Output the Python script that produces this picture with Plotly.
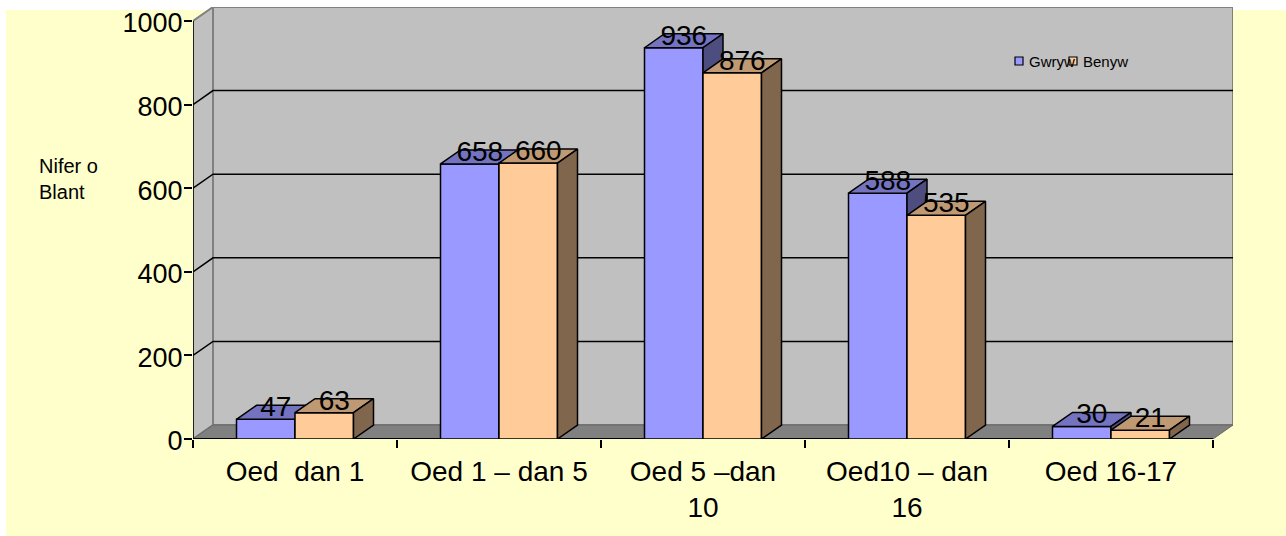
import plotly.graph_objects as go

categories = ["Oed  dan 1", "Oed 1 – dan 5", "Oed 5 –dan<br>10", "Oed10 – dan<br>16", "Oed 16-17"]
gwryw = [47, 658, 936, 588, 30]
benyw = [63, 660, 876, 535, 21]
y_ticks = [0, 200, 400, 600, 800, 1000]
series_names = ["Gwryw", "Benyw"]
y_title = "Nifer o<br>Blant"

W, H = 1286, 536
L, R, T, B = 193, 53, 7, 97
PLOT_W, PLOT_H = W - L - R, H - T - B
DX = 20 / 204       # 3-D depth in category units
DY = 14 / 0.418     # 3-D depth in value units
BW = 58.5 / 204     # bar width
XMIN, XMAX = -0.5, len(categories) - 0.5
XR = [XMIN, XMAX + DX]
YR = [0, 1000 + DY]
FONT = "Liberation Sans, Arial, sans-serif"
BLUE = dict(front="#9999FF", top="#7373BF", side="#4D4D80")
ORANGE = dict(front="#FFCC99", top="#BF9973", side="#80664D")


def px(x):
    return (x - L) / PLOT_W


def py(y):
    return 1 - (y - T) / PLOT_H


def poly(xs, ys, color, xa, ya):
    return go.Scatter(x=xs + xs[:1], y=ys + ys[:1], mode="lines", fill="toself", fillcolor=color,
                      line=dict(color="black", width=1.5), hoverinfo="skip", showlegend=False,
                      xaxis=xa, yaxis=ya)


def add_series(fig, name, values, offset, colors, xa, ya):
    fig.add_trace(go.Bar(x=list(range(len(values))), y=values, name=name, width=BW, offset=offset,
                         marker=dict(color=colors["front"], line=dict(color="black", width=1.5)),
                         showlegend=False, xaxis=xa, yaxis=ya))
    for i, v in enumerate(values):
        x0, x1 = i + offset, i + offset + BW
        fig.add_trace(poly([x0, x1, x1 + DX, x0 + DX], [v, v, v + DY, v + DY], colors["top"], xa, ya))
        fig.add_trace(poly([x1, x1 + DX, x1 + DX, x1], [0, DY, v + DY, v], colors["side"], xa, ya))


shapes = [
    # page panel
    dict(type="rect", xref="paper", yref="paper", x0=px(6), x1=px(W), y0=py(H), y1=py(10),
         fillcolor="#FFFFCC", line_width=0, layer="below"),
    # back wall
    dict(type="rect", x0=XMIN + DX, x1=XMAX + DX, y0=DY, y1=1000 + DY, fillcolor="#C0C0C0",
         line=dict(color="#808080", width=2), layer="below"),
    # side wall
    dict(type="path", path=f"M{XMIN},0 L{XMIN + DX},{DY} L{XMIN + DX},{1000 + DY} L{XMIN},1000 Z",
         fillcolor="#C0C0C0", line=dict(color="#808080", width=2), layer="below"),
    # floor
    dict(type="path", path=f"M{XMIN},0 L{XMIN + DX},{DY} L{XMAX + DX},{DY} L{XMAX},0 Z",
         fillcolor="#808080", line=dict(color="#666666", width=1), layer="below"),
]
for t in y_ticks[1:-1]:
    shapes.append(dict(type="path", path=f"M{XMIN},{t} L{XMIN + DX},{t + DY} L{XMAX + DX},{t + DY}",
                       line=dict(color="black", width=1.5), layer="below"))
shapes += [
    # axis lines
    dict(type="line", x0=XMIN, x1=XMAX, y0=0, y1=0, line=dict(color="black", width=2), layer="below"),
    dict(type="line", x0=XMIN, x1=XMIN, y0=0, y1=1000, line=dict(color="black", width=1.5), layer="below"),
]

# legend keys
annotations = []
for name, col, key_x, text_x in zip(series_names, [BLUE, ORANGE], [1015, 1069], [1027, 1081]):
    shapes.append(dict(type="rect", xref="paper", yref="paper", x0=px(key_x), x1=px(key_x + 8),
                       y0=py(65), y1=py(57), fillcolor=col["front"], line=dict(color="black", width=1.2),
                       layer="above"))
    annotations.append(dict(xref="paper", yref="paper", x=px(text_x), y=py(61), text=name, showarrow=False,
                            xanchor="left", yanchor="middle", font=dict(size=15, family=FONT, color="black")))
annotations.append(dict(xref="paper", yref="paper", x=px(37), y=py(179), text=y_title, showarrow=False,
                        xanchor="left", yanchor="middle", align="left",
                        font=dict(size=20, family=FONT, color="black")))

fig = go.Figure()
add_series(fig, series_names[0], gwryw, -BW, BLUE, "x", "y")
add_series(fig, series_names[1], benyw, 0, ORANGE, "x2", "y2")

LABEL_LIFT = 10 / 0.418
for values, offset in [(gwryw, -BW), (benyw, 0)]:
    fig.add_trace(go.Scatter(x=[i + offset + BW / 2 + DX / 2 for i in range(len(values))],
                             y=[v + LABEL_LIFT for v in values],
                             text=[str(v) for v in values], mode="text", textposition="middle center",
                             textfont=dict(size=28, family=FONT, color="black"), cliponaxis=False,
                             hoverinfo="skip", showlegend=False, xaxis="x2", yaxis="y2"))

fig.update_layout(
    width=W, height=H, margin=dict(l=L, r=R, t=T, b=B, pad=0), autosize=False,
    paper_bgcolor="white", plot_bgcolor="rgba(0,0,0,0)", barmode="overlay",
    font=dict(family=FONT, color="black"), showlegend=False,
    shapes=shapes, annotations=annotations,
    xaxis=dict(range=XR, tickmode="array", tickvals=list(range(len(categories))), ticktext=categories,
               ticks="", showgrid=False, zeroline=False, showline=False, tickfont=dict(size=28, family=FONT),
               minor=dict(tickmode="array", tickvals=[XMIN + i for i in range(len(categories) + 1)],
                          ticks="outside", ticklen=8, tickwidth=1.5, tickcolor="black", showgrid=False),
               automargin=False, ticklabelstandoff=13),
    yaxis=dict(range=YR, tickmode="array", tickvals=y_ticks, ticks="outside", ticklen=8, tickwidth=1.5,
               tickcolor="black", showgrid=False, zeroline=False, showline=False, automargin=False,
               ticklabelstandoff=-4, ticklabelshift=2, tickfont=dict(size=27, family=FONT)),
    xaxis2=dict(range=XR, overlaying="x", visible=False),
    yaxis2=dict(range=YR, overlaying="y", visible=False),
)

fig.write_html("out.html", config=dict(displayModeBar=False),
               post_script="document.body.style.margin='0';")
